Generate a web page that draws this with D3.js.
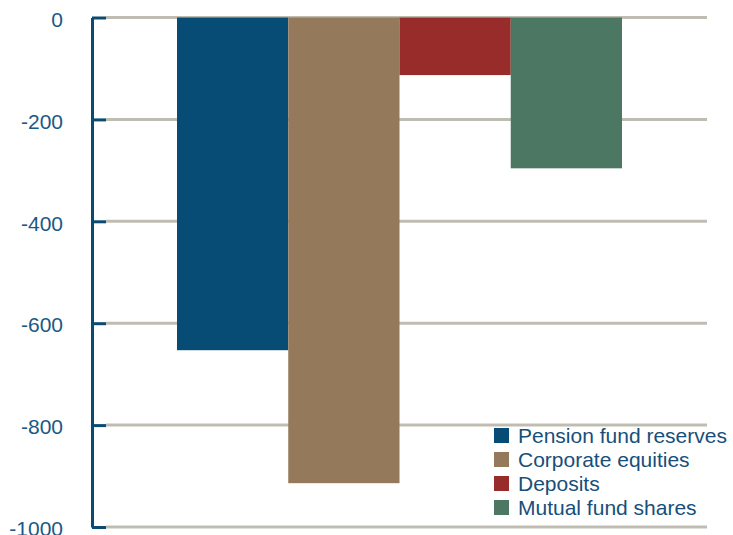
<!DOCTYPE html>
<html lang="en">
<head>
  <meta charset="UTF-8">
  <title>household assets change</title>
  <style>
    body { margin: 0; background: #fff; }
    svg { display: block; font-family: "Liberation Sans", Arial, sans-serif; }
    .grid line { stroke: #bfbdb2; stroke-width: 3; }
    .axis path, .axis line { stroke: #0b4a73; stroke-width: 3; }
    .labels text { fill: #1b5886; font-size: 21px; }
    .legend text { fill: #174f7a; font-size: 21px; }
  </style>
</head>
<body>
  <script src="https://cdnjs.cloudflare.com/ajax/libs/d3/7.8.5/d3.min.js"></script>
  <script>
    'use strict';

    const series = ['Pension fund reserves', 'Corporate equities', 'Deposits', 'Mutual fund shares'];
    const values = [-653, -914, -113, -296];
    const colors = ['#074c75', '#94795b', '#982c2b', '#4b7763'];
    const yTicks = [0, -200, -400, -600, -800, -1000];

    const w = 733, h = 535;
    const axisX = 92, gridLeft = 106, gridRight = 707;

    const svg = d3.select('body').append('svg')
      .attr('width', w)
      .attr('height', h);

    const y = d3.scaleLinear().domain([-1000, 0]).range([527, 17.5]);
    const x = d3.scaleBand().domain(series).range([177, 622]).padding(0);

    // gridlines
    svg.append('g').attr('class', 'grid')
      .selectAll('line')
      .data(yTicks)
      .enter().append('line')
      .attr('x1', gridLeft)
      .attr('x2', gridRight)
      .attr('y1', d => y(d))
      .attr('y2', d => y(d));

    // bars
    svg.append('g')
      .selectAll('rect')
      .data(values)
      .enter().append('rect')
      .attr('x', (d, i) => x(series[i]))
      .attr('width', x.bandwidth())
      .attr('y', d => y(Math.max(0, d)))
      .attr('height', d => Math.abs(y(d) - y(0)))
      .attr('fill', (d, i) => colors[i]);

    // axis line + ticks
    svg.append('g').attr('class', 'axis')
      .attr('transform', `translate(${axisX},0)`)
      .call(d3.axisRight(y).tickValues(yTicks).tickSize(14).tickSizeOuter(0).tickFormat(''));

    // tick labels
    const lab = svg.append('g').attr('class', 'labels')
      .attr('transform', `translate(${axisX},2)`)
      .call(d3.axisLeft(y).tickValues(yTicks).tickSize(0).tickPadding(29).tickFormat(d => String(d)));
    lab.select('.domain').remove();
    lab.selectAll('text').attr('font-size', null).attr('font-family', null);

    // legend
    const legend = svg.append('g').attr('class', 'legend')
      .attr('transform', 'translate(494,428)');
    const item = legend.selectAll('g')
      .data(series)
      .enter().append('g')
      .attr('transform', (d, i) => `translate(0,${i * 24})`);
    item.append('rect')
      .attr('width', 15)
      .attr('height', 15)
      .attr('fill', (d, i) => colors[i]);
    item.append('text')
      .attr('x', 24)
      .attr('y', 14.5)
      .text(d => d);
  </script>
</body>
</html>
